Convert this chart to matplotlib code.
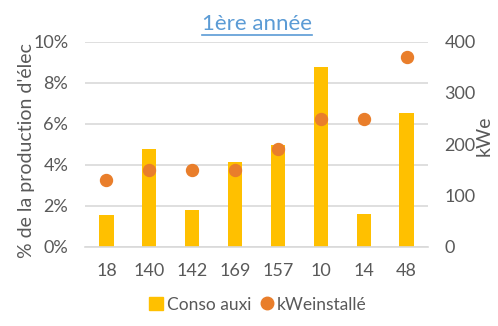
import numpy as np
import matplotlib.pyplot as plt
from matplotlib.ticker import PercentFormatter
from matplotlib.lines import Line2D
from matplotlib.patches import Patch

# donnees par installation
sites = ["18", "140", "142", "169", "157", "10", "14", "48"]
conso_auxi = [1.55, 4.77, 1.79, 4.12, 4.95, 8.77, 1.6, 6.5]   # % de la production
kwe_installe = [130, 150, 150, 150, 190, 250, 250, 370]      # kWe

gris = "#595959"
plt.rcParams['font.family'] = ['Lato', 'DejaVu Sans']

fig = plt.figure(figsize=(4.98, 3.26), dpi=100)
ax = fig.add_axes([0.1707, 0.2433, 0.6887, 0.6287])
ax2 = ax.twinx()

x = np.arange(len(sites))
ax.bar(x, conso_auxi, width=0.33, color="#FFC000", zorder=2)
ax2.plot(x, kwe_installe, 'o', color="#E97E2B", markersize=8.6, zorder=3)

ax.set_ylim(0, 10)
ax.set_yticks([0, 2, 4, 6, 8, 10])
ax.yaxis.set_major_formatter(PercentFormatter(decimals=0))
ax2.set_ylim(0, 400)
ax2.set_yticks([0, 100, 200, 300, 400])
ax.set_xlim(-0.5, len(sites) - 0.5)
ax.set_xticks(x)
ax.set_xticklabels(sites)

ax.grid(axis='y', color="#D9D9D9", linewidth=1.2, zorder=0)
ax.set_axisbelow(True)
for a in (ax, ax2):
    for s in a.spines.values():
        s.set_visible(False)
    a.tick_params(length=0, colors=gris, labelsize=13)
ax.tick_params(axis='x', pad=12)
ax.tick_params(axis='y', pad=12)
ax2.tick_params(axis='y', pad=12)
ax.spines['bottom'].set_visible(True)
ax.spines['bottom'].set_color("#D9D9D9")
ax.spines['bottom'].set_linewidth(1.2)

ax.set_ylabel("% de la production d'élec", color=gris, fontsize=14)
ax.yaxis.set_label_coords(-0.145, 0.47)
ax2.set_ylabel("kWe", color=gris, fontsize=14)
ax2.yaxis.set_label_coords(1.14, 0.54)

# titre souligne
titre = fig.text(0.5155, 0.925, "1ère année", color="#5B9BD5", fontsize=16,
                 ha='center', va='center')
fig.canvas.draw()
bb = titre.get_window_extent().transformed(fig.transFigure.inverted())
fig.add_artist(Line2D([bb.x0, bb.x1], [bb.y0 - 0.002, bb.y0 - 0.002],
                      color="#5B9BD5", linewidth=1.2))

handles = [Patch(color="#FFC000"),
           Line2D([], [], marker='o', linestyle='', color="#E97E2B", markersize=9)]
fig.legend(handles, ["Conso auxi", "kWeinstallé"], loc='center',
           bbox_to_anchor=(0.518, 0.065), ncol=2, frameon=False, fontsize=12.5,
           handlelength=0.8, handleheight=0.8, handletextpad=0.2, columnspacing=0.5,
           labelcolor=gris)

fig.savefig("out.png", dpi=100)
